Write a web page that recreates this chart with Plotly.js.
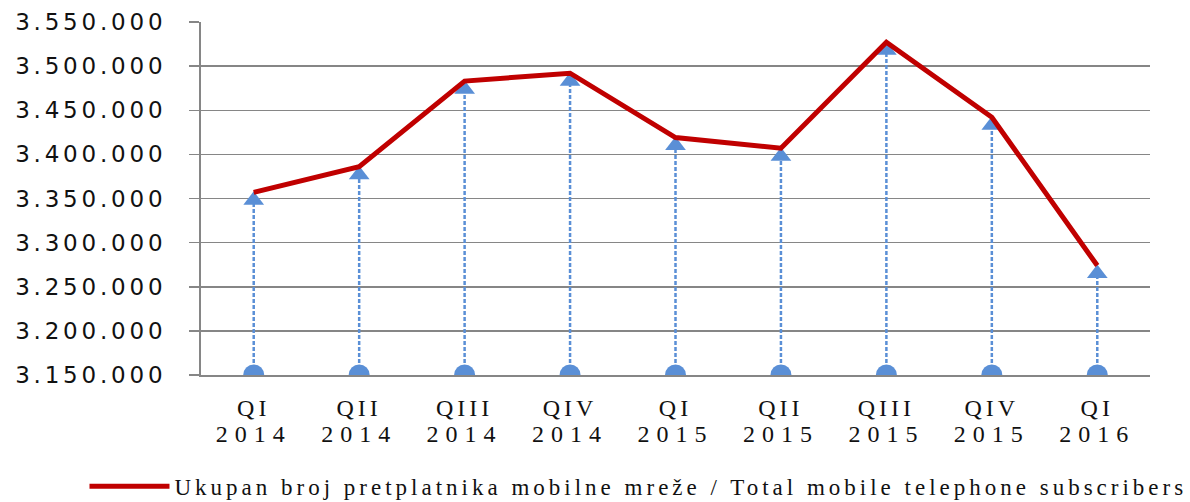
<!DOCTYPE html>
<html><head><meta charset="utf-8">
<script src="https://cdn.plot.ly/plotly-3.0.1.min.js"></script>
<style>
html,body{margin:0;padding:0;background:#fff;}
#chart{width:1190px;height:502px;}
.ytick text{letter-spacing:3.8px;}
.xtick text{letter-spacing:4px;}
.x2tick text{letter-spacing:7px;}
.legendtext{letter-spacing:4px;}
</style></head><body><div id="chart"></div>
<script>
const quarters = ['QI','QII','QIII','QIV','QI','QII','QIII','QIV','QI'];
const years = ['2014','2014','2014','2014','2015','2015','2015','2015','2016'];
const subscribers = [3357000, 3386000, 3483000, 3492000, 3419000, 3407000, 3527000, 3442000, 3274000];
const baseValue = 3150000;
const yTickVals = [3150000, 3200000, 3250000, 3300000, 3350000, 3400000, 3450000, 3500000, 3550000];
const seriesName = 'Ukupan broj pretplatnika mobilne mreže / Total mobile telephone subscribers';

const idx = quarters.map((q, i) => i);
const ax = [], ay = [], asym = [], asize = [], astand = [];
idx.forEach(i => {
  ax.push(i, i, null);
  ay.push(baseValue, subscribers[i], null);
  asym.push('circle', 'triangle-up', 'circle');
  asize.push(21, 18, 0);
  astand.push(0, 8, 0);
});

const arrows = {
  x: ax, y: ay, type: 'scatter', mode: 'lines+markers', showlegend: false, hoverinfo: 'skip',
  cliponaxis: true,
  line: {color: '#5A8FD6', width: 2.5, dash: '4px,2px'},
  marker: {color: '#5A8FD6', symbol: asym, size: asize, standoff: astand, opacity: 1, line: {width: 0}},
  connectgaps: false
};
const mainLine = {
  x: idx, y: subscribers, type: 'scatter', mode: 'lines', name: seriesName, cliponaxis: true,
  line: {color: '#C00000', width: 5}
};
const yearAxisHolder = {
  x: [], y: [], xaxis: 'x2', type: 'scatter', mode: 'markers', showlegend: false, hoverinfo: 'skip'
};

const tickFont = {family: 'Liberation Serif', size: 24, color: '#111'};
const layout = {
  width: 1190, height: 502,
  margin: {l: 201, r: 40, t: 22, b: 127, autoexpand: false},
  paper_bgcolor: '#fff', plot_bgcolor: '#fff',
  separators: ',.',
  showlegend: true,
  legend: {orientation: 'h', x: 0.461, xanchor: 'center', y: -0.315, yanchor: 'middle',
    font: {family: 'Liberation Serif', size: 23, color: '#111'}, itemwidth: 80},
  xaxis: {showgrid: false, showline: true, linecolor: '#868686', linewidth: 1.5,
    tickvals: idx, ticktext: quarters,
    ticks: '', ticklabelstandoff: 11, tickfont: tickFont, zeroline: false,
    range: [-0.5, 8.5], fixedrange: true},
  xaxis2: {overlaying: 'x', matches: 'x', anchor: 'y', side: 'bottom', showgrid: false, showline: false,
    tickvals: idx, ticktext: years,
    ticks: '', ticklabelstandoff: 42, tickfont: tickFont, zeroline: false,
    range: [-0.5, 8.5], fixedrange: true},
  yaxis: {range: [baseValue, 3550000], tickvals: yTickVals, tickformat: ',d',
    showgrid: true, gridcolor: '#868686', gridwidth: 1.5,
    showline: true, linecolor: '#868686', linewidth: 2,
    ticks: 'outside', ticklen: 10, tickcolor: '#868686', tickwidth: 1.5,
    ticklabelstandoff: 18,
    tickfont: {family: 'DejaVu Sans', size: 23, color: '#111'}, zeroline: false}
};
Plotly.newPlot('chart', [yearAxisHolder, arrows, mainLine], layout, {displayModeBar: false, staticPlot: true});
</script></body></html>
